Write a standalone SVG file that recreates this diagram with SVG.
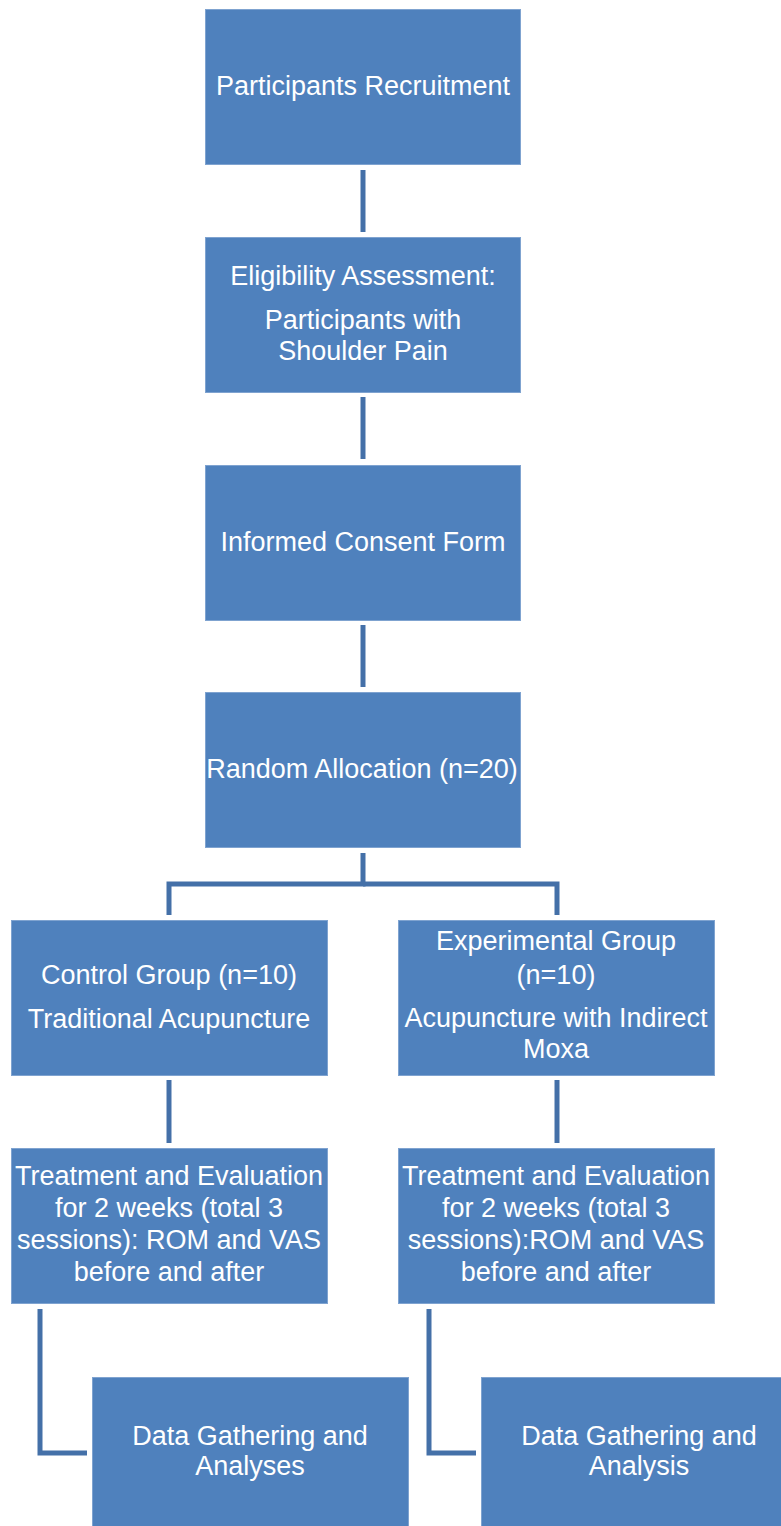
<svg xmlns="http://www.w3.org/2000/svg" width="781" height="1526" viewBox="0 0 781 1526">
<style>
.box{fill:#4F81BD;stroke:#7FA3D0;stroke-width:1}
.t{font-family:"Liberation Sans",Arial,sans-serif;font-size:27px;fill:#FFFFFF;text-anchor:middle}
.c{fill:none;stroke:#4470A8;stroke-width:5;stroke-linejoin:miter;stroke-linecap:butt}
</style>
<rect width="781" height="1526" fill="#FFFFFF"/>
<g id="connectors">
<line class="c" x1="363" y1="170" x2="363" y2="232"/>
<line class="c" x1="363" y1="397" x2="363" y2="459"/>
<line class="c" x1="363" y1="625" x2="363" y2="687"/>
<polyline class="c" points="363,853 363,884 169,884 169,915"/>
<polyline class="c" points="363,884 557,884 557,915"/>
<line class="c" x1="169" y1="1080" x2="169" y2="1143"/>
<line class="c" x1="557" y1="1080" x2="557" y2="1143"/>
<polyline class="c" points="40,1309 40,1453 87,1453"/>
<polyline class="c" points="429,1309 429,1453 476,1453"/>
</g>
<g id="recruitment">
<rect class="box" x="205.5" y="9.5" width="315" height="155"/>
<text class="t" x="363" y="95">Participants Recruitment</text>
</g>
<g id="eligibility">
<rect class="box" x="205.5" y="237.5" width="315" height="155"/>
<text class="t" x="363" y="285">Eligibility Assessment:</text>
<text class="t" x="363" y="329">Participants with</text>
<text class="t" x="363" y="360">Shoulder Pain</text>
</g>
<g id="consent">
<rect class="box" x="205.5" y="465.5" width="315" height="155"/>
<text class="t" x="363" y="551">Informed Consent Form</text>
</g>
<g id="allocation">
<rect class="box" x="205.5" y="692.5" width="315" height="155"/>
<text class="t" x="362" y="778">Random Allocation (n=20)</text>
</g>
<g id="control">
<rect class="box" x="11.5" y="920.5" width="316" height="155"/>
<text class="t" x="169" y="984">Control Group (n=10)</text>
<text class="t" x="169" y="1028">Traditional Acupuncture</text>
</g>
<g id="experimental">
<rect class="box" x="398.5" y="920.5" width="316" height="155"/>
<text class="t" x="556" y="950">Experimental Group</text>
<text class="t" x="556" y="984">(n=10)</text>
<text class="t" x="556" y="1027">Acupuncture with Indirect</text>
<text class="t" x="556" y="1058">Moxa</text>
</g>
<g id="treatment-control">
<rect class="box" x="11.5" y="1148.5" width="316" height="155"/>
<text class="t" x="169" y="1185">Treatment and Evaluation</text>
<text class="t" x="169" y="1217">for 2 weeks (total 3</text>
<text class="t" x="169" y="1249">sessions): ROM and VAS</text>
<text class="t" x="169" y="1281">before and after</text>
</g>
<g id="treatment-experimental">
<rect class="box" x="398.5" y="1148.5" width="316" height="155"/>
<text class="t" x="556" y="1185">Treatment and Evaluation</text>
<text class="t" x="556" y="1217">for 2 weeks (total 3</text>
<text class="t" x="556" y="1249">sessions):ROM and VAS</text>
<text class="t" x="556" y="1281">before and after</text>
</g>
<g id="data-control">
<rect class="box" x="92.5" y="1377.5" width="316" height="160"/>
<text class="t" x="250" y="1445">Data Gathering and</text>
<text class="t" x="250" y="1475">Analyses</text>
</g>
<g id="data-experimental">
<rect class="box" x="481.5" y="1377.5" width="316" height="160"/>
<text class="t" x="639" y="1445">Data Gathering and</text>
<text class="t" x="639" y="1475">Analysis</text>
</g>
</svg>
